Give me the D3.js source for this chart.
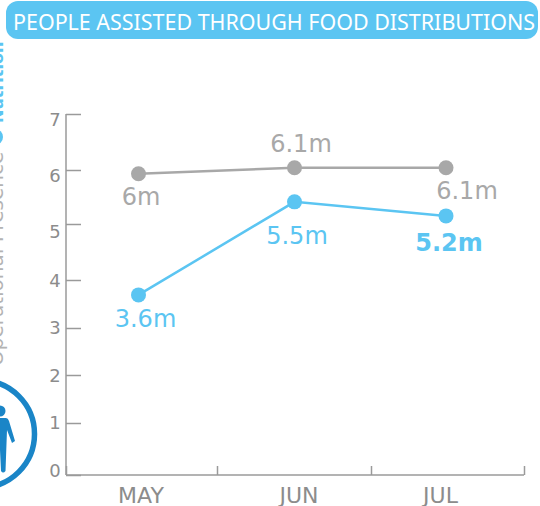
<!DOCTYPE html>
<html>
<head>
<meta charset="utf-8">
<script src="https://cdn.jsdelivr.net/npm/d3@7"></script>
<style>
  html, body { margin: 0; padding: 0; background: #fff; overflow: hidden; }
  svg { display: block; }
  text { font-family: "DejaVu Sans", sans-serif; }
</style>
</head>
<body>
<div id="chart-area"></div>
<script>
var title = "PEOPLE ASSISTED THROUGH FOOD DISTRIBUTIONS"
var months = ["MAY", "JUN", "JUL"]
var yTicks = [0, 1, 2, 3, 4, 5, 6, 7]

// values as plotted in the picture, the labels are rounded differently
var planned = [5.93, 6.04, 6.04]
var assisted = [3.69, 5.41, 5.15]
var plannedLabels = ["6m", "6.1m", "6.1m"]
var assistedLabels = ["3.6m", "5.5m", "5.2m"]

var grey = "#a8a8a8"
var blue = "#5bc5f2"
var axisColor = "#9a9a9a"
var textColor = "#8c8c8c"
var iconColor = "#1a85c7"

var svg = d3.select("#chart-area").append("svg")
  .attr("width", 540)
  .attr("height", 506)

// title banner
svg.append("rect")
  .attr("x", 6)
  .attr("y", 1)
  .attr("width", 532)
  .attr("height", 38)
  .attr("rx", 12)
  .attr("fill", blue)
svg.append("text")
  .attr("x", 13)
  .attr("y", 30)
  .attr("textLength", 522)
  .attr("lengthAdjust", "spacingAndGlyphs")
  .style("font-family", "'Noto Sans', sans-serif")
  .attr("font-size", 22.5)
  .attr("fill", "#fff")
  .text(title)

// the axis ticks of the source are not evenly spaced
var y = d3.scaleLinear()
  .domain(yTicks)
  .range([475, 423, 375, 328, 280, 224, 170, 114])

// tick labels do not sit on their ticks in the source either
var yLabel = d3.scaleLinear()
  .domain(yTicks)
  .range([477, 429, 382, 334, 287, 238, 182, 126])

var x = d3.scaleOrdinal()
  .domain(months)
  .range([138.5, 294.5, 446])

var xBand = d3.scaleLinear()
  .domain([0, 1, 2, 3])
  .range([66, 217, 371, 524])

var monthX = d3.scaleOrdinal()
  .domain(months)
  .range([141, 299, 440.5])

// y axis
var yAxis = svg.append("g")
  .attr("transform", "translate(66,0)")
  .call(d3.axisRight(y).tickValues(yTicks).tickSize(15).tickFormat(""))
yAxis.selectAll("path").attr("stroke", axisColor).attr("stroke-width", 1.5).attr("d", "M0,114V475")
yAxis.selectAll("line").attr("stroke", axisColor).attr("stroke-width", 1.5)

yTicks.forEach(function (d) {
  svg.append("text")
    .attr("x", 55)
    .attr("y", yLabel(d))
    .attr("text-anchor", "middle")
    .attr("font-size", 18)
    .attr("fill", textColor)
    .text(d)
})

// x axis
var xAxis = svg.append("g")
  .attr("transform", "translate(0,475)")
  .call(d3.axisTop(xBand).tickValues([0, 1, 2, 3]).tickSize(9).tickFormat(""))
xAxis.selectAll("path").attr("stroke", axisColor).attr("stroke-width", 1.5).attr("d", "M66,0H524")
xAxis.selectAll("line").attr("stroke", axisColor).attr("stroke-width", 1.5)

months.forEach(function (m) {
  svg.append("text")
    .attr("x", monthX(m))
    .attr("y", 503)
    .attr("text-anchor", "middle")
    .attr("font-size", 22)
    .attr("fill", textColor)
    .text(m)
})

// lines
var line = d3.line()
  .x(function (d, i) { return x(months[i]) })
  .y(function (d) { return y(d) })

svg.append("path")
  .attr("d", line(planned))
  .attr("fill", "none")
  .attr("stroke", grey)
  .attr("stroke-width", 2.5)
svg.append("path")
  .attr("d", line(assisted))
  .attr("fill", "none")
  .attr("stroke", blue)
  .attr("stroke-width", 2.5)

svg.selectAll(".dot-grey")
  .data(planned)
  .enter()
  .append("circle")
  .attr("cx", function (d, i) { return x(months[i]) })
  .attr("cy", function (d) { return y(d) })
  .attr("r", 7.5)
  .attr("fill", grey)
svg.selectAll(".dot-blue")
  .data(assisted)
  .enter()
  .append("circle")
  .attr("cx", function (d, i) { return x(months[i]) })
  .attr("cy", function (d) { return y(d) })
  .attr("r", 7.5)
  .attr("fill", blue)

// value labels, offsets picked by eye
var plannedOffsets = [[2.5, 31], [6.5, -16], [21, 31]]
var assistedOffsets = [[7, 32], [2.5, 42], [3, 35]]

svg.selectAll(".label-grey")
  .data(plannedLabels)
  .enter()
  .append("text")
  .attr("x", function (d, i) { return x(months[i]) + plannedOffsets[i][0] })
  .attr("y", function (d, i) { return y(planned[i]) + plannedOffsets[i][1] })
  .attr("text-anchor", "middle")
  .attr("font-size", 24)
  .attr("fill", grey)
  .text(function (d) { return d })
svg.selectAll(".label-blue")
  .data(assistedLabels)
  .enter()
  .append("text")
  .attr("x", function (d, i) { return x(months[i]) + assistedOffsets[i][0] })
  .attr("y", function (d, i) { return y(assisted[i]) + assistedOffsets[i][1] })
  .attr("text-anchor", "middle")
  .attr("font-size", function (d, i) { return i == 2 ? 24 : 24 })
  .attr("font-weight", function (d, i) { return i == 2 ? "bold" : "normal" })
  .attr("fill", blue)
  .text(function (d) { return d })

// cut off side label and icon at the left edge
svg.append("text")
  .attr("transform", "translate(3,366) rotate(-90)")
  .attr("font-size", 20)
  .attr("fill", "#b3b3b3")
  .text("Operational Presence")
svg.append("circle")
  .attr("cx", -5)
  .attr("cy", 137)
  .attr("r", 8)
  .attr("fill", blue)
svg.append("text")
  .attr("transform", "translate(3,123) rotate(-90)")
  .attr("font-size", 16)
  .attr("font-weight", "bold")
  .attr("fill", blue)
  .text("Nutrition")

var icon = svg.append("g")
icon.append("circle")
  .attr("cx", -19)
  .attr("cy", 434)
  .attr("r", 53.5)
  .attr("fill", "none")
  .attr("stroke", iconColor)
  .attr("stroke-width", 5.5)
icon.append("circle")
  .attr("cx", 0)
  .attr("cy", 411)
  .attr("r", 5.5)
  .attr("fill", iconColor)
icon.append("path")
  .attr("d", "M0,418H6Q8,418 9,421L15,441L12,443L7,430L5.5,471Q3,474 1,471L0,450Z")
  .attr("fill", iconColor)
</script>
</body>
</html>
